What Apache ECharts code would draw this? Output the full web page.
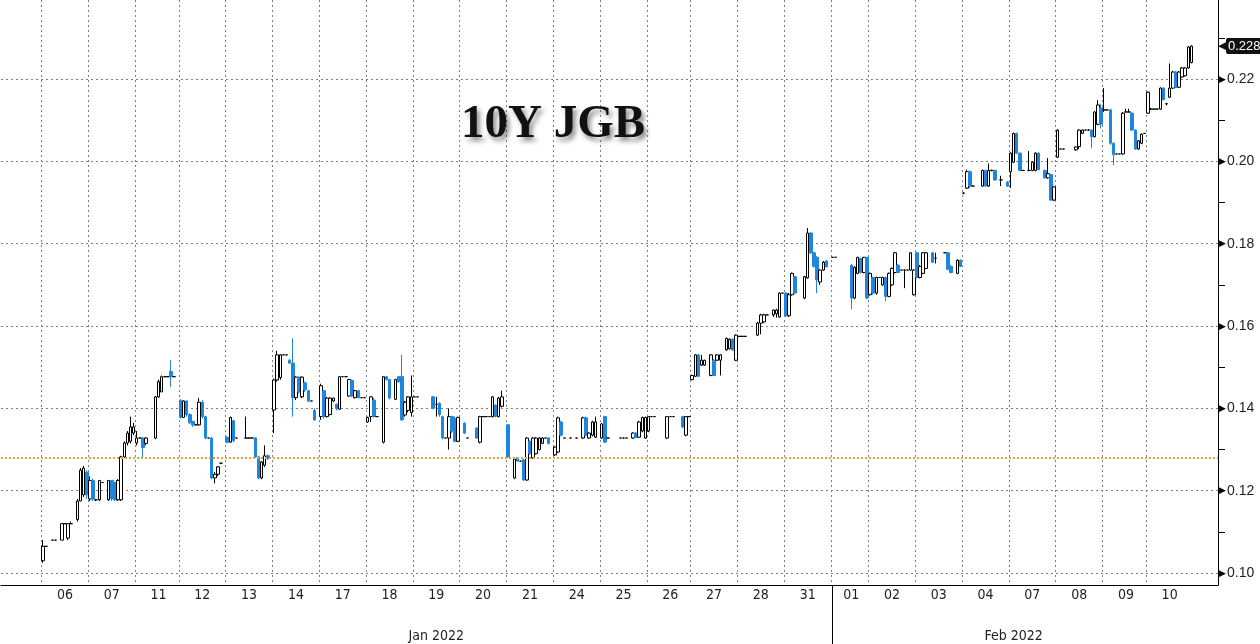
<!DOCTYPE html>
<html><head><meta charset="utf-8">
<script src="https://cdn.jsdelivr.net/npm/echarts@6/dist/echarts.min.js"></script>
<style>html,body{margin:0;padding:0;background:#fff}#c{width:1260px;height:644px}</style>
</head><body><div id="c"></div>
<script>
// ---- tick / axis labels ----
const dayLabels = ['06','07','11','12','13','14','17','18','19','20','21','24','25','26','27','28','31','01','02','03','04','07','08','09','10'];
const monthNames = ['Jan 2022','Feb 2022'];
const monthDayCount = [17, 8];
const yTicks = [0.10,0.12,0.14,0.16,0.18,0.20,0.22];
const refLevel = 0.128;
const lastValue = 0.228;

// ---- 30-min OHLC bars per session: [open, close, low, high], null = no trade ----
const jan06 = [[0.1030,0.1065,0.1025,0.1080],[0.1065,0.1065,0.1065,0.1065],null,[0.1080,0.1080,0.1080,0.1080],[0.1080,0.1080,0.1080,0.1080],null,[0.1080,0.1120,0.1080,0.1120],[0.1120,0.1120,0.1120,0.1120],[0.1085,0.1120,0.1080,0.1120],[0.1120,0.1120,0.1120,0.1125],null,[0.1130,0.1175,0.1125,0.1180],[0.1175,0.1250,0.1175,0.1255],[0.1190,0.1255,0.1185,0.1260],[0.1245,0.1190,0.1180,0.1250]];
const jan07 = [[0.1180,0.1225,0.1175,0.1235],[0.1225,0.1180,0.1175,0.1230],[0.1178,0.1178,0.1175,0.1180],[0.1178,0.1225,0.1175,0.1225],[0.1220,0.1220,0.1220,0.1220],null,[0.1178,0.1225,0.1175,0.1225],[0.1225,0.1180,0.1175,0.1225],[0.1220,0.1178,0.1175,0.1220],[0.1178,0.1225,0.1175,0.1228],[0.1178,0.1282,0.1175,0.1285],[0.1282,0.1316,0.1280,0.1320],[0.1316,0.1340,0.1310,0.1345],[0.1320,0.1355,0.1315,0.1380],[0.1340,0.1355,0.1335,0.1365]];
const jan11 = [[0.1316,0.1328,0.1310,0.1345],[0.1328,0.1328,0.1328,0.1328],[0.1328,0.1305,0.1280,0.1330],[0.1315,0.1328,0.1310,0.1330],null,null,[0.1328,0.1428,0.1325,0.1430],[0.1428,0.1465,0.1425,0.1470],[0.1440,0.1477,0.1440,0.1480],[0.1477,0.1477,0.1477,0.1477],[0.1477,0.1477,0.1477,0.1477],[0.1490,0.1477,0.1452,0.1517],[0.1477,0.1477,0.1477,0.1477],null];
const jan12 = [[0.1420,0.1378,0.1375,0.1422],[0.1378,0.1418,0.1378,0.1420],[0.1418,0.1385,0.1380,0.1420],[0.1385,0.1365,0.1362,0.1388],[0.1368,0.1360,0.1355,0.1370],[0.1360,0.1360,0.1360,0.1360],[0.1360,0.1415,0.1358,0.1425],[0.1415,0.1380,0.1375,0.1420],[0.1380,0.1328,0.1325,0.1382],[0.1328,0.1328,0.1328,0.1328],[0.1328,0.1231,0.1228,0.1330],[0.1231,0.1240,0.1218,0.1245],[0.1240,0.1258,0.1235,0.1260],[0.1267,0.1267,0.1267,0.1267],null];
const jan13 = [[0.1330,0.1318,0.1315,0.1332],[0.1318,0.1378,0.1316,0.1380],[0.1370,0.1322,0.1318,0.1372],[0.1328,0.1328,0.1328,0.1328],null,null,[0.1328,0.1328,0.1328,0.1380],[0.1328,0.1328,0.1328,0.1328],[0.1328,0.1328,0.1328,0.1328],[0.1328,0.1282,0.1280,0.1330],[0.1282,0.1231,0.1228,0.1285],[0.1231,0.1270,0.1228,0.1272],[0.1262,0.1285,0.1258,0.1310],[0.1285,0.1278,0.1275,0.1288],null];
const jan14 = [[0.1396,0.1469,0.1340,0.1472],[0.1469,0.1530,0.1465,0.1540],[0.1475,0.1530,0.1470,0.1532],[0.1530,0.1530,0.1530,0.1530],[0.1530,0.1530,0.1530,0.1530],[0.1517,0.1510,0.1508,0.1520],[0.1510,0.1426,0.1380,0.1570],[0.1426,0.1476,0.1420,0.1478],[0.1476,0.1440,0.1436,0.1478],[0.1428,0.1476,0.1425,0.1478],[0.1462,0.1445,0.1440,0.1465],[0.1443,0.1418,0.1415,0.1445],[0.1418,0.1418,0.1418,0.1418],[0.1395,0.1372,0.1370,0.1400],null];
const jan17 = [[0.1380,0.1455,0.1372,0.1460],[0.1443,0.1380,0.1375,0.1445],[0.1380,0.1425,0.1378,0.1428],[0.1385,0.1425,0.1383,0.1427],[0.1418,0.1425,0.1416,0.1426],[0.1410,0.1400,0.1395,0.1412],[0.1398,0.1477,0.1396,0.1478],[0.1477,0.1477,0.1477,0.1477],[0.1477,0.1477,0.1477,0.1477],[0.1430,0.1470,0.1428,0.1472],[0.1468,0.1430,0.1428,0.1470],[0.1426,0.1443,0.1424,0.1445],[0.1443,0.1426,0.1424,0.1445],[0.1426,0.1426,0.1426,0.1426],[0.1426,0.1426,0.1426,0.1426]];
const jan18 = [[0.1367,0.1378,0.1365,0.1380],[0.1380,0.1428,0.1367,0.1430],[0.1420,0.1380,0.1378,0.1425],[0.1380,0.1380,0.1380,0.1380],null,[0.1318,0.1477,0.1315,0.1478],[0.1477,0.1470,0.1468,0.1478],[0.1470,0.1425,0.1422,0.1472],null,[0.1422,0.1470,0.1420,0.1472],[0.1477,0.1465,0.1462,0.1478],[0.1477,0.1372,0.1370,0.1530],[0.1384,0.1415,0.1380,0.1418],[0.1395,0.1428,0.1390,0.1430],[0.1390,0.1428,0.1380,0.1480]];
const jan19 = [[0.1428,0.1428,0.1428,0.1428],[0.1428,0.1428,0.1428,0.1428],null,null,null,null,[0.1428,0.1400,0.1398,0.1430],[0.1410,0.1410,0.1380,0.1428],[0.1412,0.1385,0.1380,0.1415],[0.1380,0.1328,0.1325,0.1382],[0.1328,0.1328,0.1328,0.1328],[0.1328,0.1380,0.1300,0.1400],[0.1380,0.1345,0.1340,0.1382],[0.1375,0.1320,0.1318,0.1380],[0.1320,0.1378,0.1318,0.1380]];
const jan20 = [null,[0.1364,0.1340,0.1338,0.1366],[0.1328,0.1328,0.1328,0.1328],null,null,[0.1352,0.1328,0.1326,0.1355],[0.1318,0.1380,0.1315,0.1382],[0.1380,0.1380,0.1380,0.1380],[0.1380,0.1380,0.1380,0.1380],[0.1380,0.1380,0.1380,0.1380],[0.1380,0.1428,0.1378,0.1430],[0.1408,0.1380,0.1378,0.1410],[0.1380,0.1425,0.1378,0.1428],[0.1405,0.1428,0.1402,0.1443],null];
const jan21 = [[0.1360,0.1282,0.1280,0.1362],null,[0.1231,0.1277,0.1228,0.1280],[0.1280,0.1272,0.1270,0.1282],[0.1272,0.1272,0.1272,0.1272],[0.1275,0.1226,0.1224,0.1278],[0.1226,0.1328,0.1224,0.1330],[0.1320,0.1290,0.1288,0.1322],[0.1280,0.1328,0.1278,0.1330],[0.1290,0.1328,0.1288,0.1330],[0.1300,0.1328,0.1298,0.1330],[0.1315,0.1328,0.1313,0.1330],[0.1328,0.1328,0.1328,0.1328],[0.1328,0.1315,0.1312,0.1330],null];
const jan24 = [[0.1287,0.1306,0.1285,0.1308],[0.1294,0.1377,0.1292,0.1380],[0.1367,0.1335,0.1332,0.1370],[0.1328,0.1328,0.1328,0.1328],null,[0.1328,0.1328,0.1328,0.1328],null,[0.1328,0.1328,0.1328,0.1328],null,[0.1328,0.1377,0.1326,0.1380],[0.1377,0.1335,0.1332,0.1380],[0.1328,0.1340,0.1326,0.1342],[0.1335,0.1367,0.1332,0.1370],[0.1330,0.1367,0.1328,0.1380],null];
const jan25 = [[0.1328,0.1362,0.1326,0.1365],[0.1380,0.1318,0.1316,0.1382],[0.1328,0.1328,0.1328,0.1328],null,null,null,[0.1328,0.1328,0.1328,0.1328],[0.1328,0.1328,0.1328,0.1328],[0.1328,0.1328,0.1328,0.1328],null,[0.1328,0.1340,0.1326,0.1342],[0.1340,0.1330,0.1328,0.1342],[0.1330,0.1367,0.1328,0.1370],[0.1345,0.1378,0.1342,0.1380],[0.1328,0.1378,0.1326,0.1380]];
const jan26 = [[0.1345,0.1380,0.1342,0.1380],[0.1380,0.1380,0.1380,0.1380],[0.1380,0.1380,0.1380,0.1380],null,null,null,[0.1328,0.1380,0.1326,0.1380],[0.1380,0.1380,0.1380,0.1380],[0.1380,0.1380,0.1380,0.1380],null,null,[0.1380,0.1355,0.1352,0.1382],[0.1335,0.1380,0.1332,0.1380],[0.1380,0.1380,0.1380,0.1380]];
const jan27 = [[0.1470,0.1480,0.1468,0.1482],[0.1478,0.1530,0.1476,0.1532],[0.1530,0.1478,0.1476,0.1532],[0.1505,0.1517,0.1503,0.1530],[0.1505,0.1517,0.1503,0.1518],null,[0.1480,0.1530,0.1478,0.1532],[0.1517,0.1480,0.1478,0.1520],[0.1517,0.1530,0.1515,0.1532],[0.1517,0.1530,0.1480,0.1532],null,[0.1542,0.1570,0.1540,0.1572],[0.1545,0.1568,0.1543,0.1570],[0.1568,0.1542,0.1540,0.1570],[0.1517,0.1578,0.1515,0.1580]];
const jan28 = [[0.1575,0.1575,0.1575,0.1575],[0.1575,0.1575,0.1575,0.1575],[0.1575,0.1575,0.1575,0.1575],null,null,null,[0.1578,0.1607,0.1576,0.1610],[0.1607,0.1627,0.1580,0.1630],[0.1610,0.1627,0.1608,0.1630],[0.1627,0.1627,0.1627,0.1627],null,[0.1627,0.1639,0.1622,0.1640],[0.1630,0.1639,0.1620,0.1642],[0.1622,0.1680,0.1620,0.1682],[0.1680,0.1680,0.1680,0.1680]];
const jan31 = [[0.1680,0.1625,0.1622,0.1682],[0.1625,0.1676,0.1622,0.1680],[0.1676,0.1728,0.1674,0.1730],[0.1720,0.1680,0.1678,0.1722],null,null,[0.1668,0.1720,0.1665,0.1722],[0.1717,0.1826,0.1715,0.1838],[0.1826,0.1778,0.1775,0.1828],[0.1778,0.1745,0.1742,0.1780],[0.1767,0.1712,0.1680,0.1770],[0.1707,0.1736,0.1700,0.1738],[0.1736,0.1755,0.1734,0.1758],[0.1758,0.1744,0.1742,0.1760],null];
const feb01 = [[0.1767,0.1767,0.1767,0.1767],[0.1767,0.1767,0.1767,0.1767],null,null,null,null,[0.1748,0.1668,0.1641,0.1750],[0.1668,0.1743,0.1665,0.1745],[0.1728,0.1767,0.1726,0.1768],[0.1764,0.1730,0.1728,0.1766],[0.1730,0.1767,0.1728,0.1768],[0.1767,0.1668,0.1665,0.1768]];
const feb02 = [[0.1676,0.1728,0.1674,0.1730],[0.1718,0.1680,0.1676,0.1720],[0.1680,0.1718,0.1676,0.1720],[0.1718,0.1718,0.1718,0.1718],[0.1700,0.1718,0.1698,0.1720],[0.1718,0.1672,0.1660,0.1720],[0.1672,0.1728,0.1670,0.1730],[0.1700,0.1740,0.1698,0.1742],[0.1730,0.1778,0.1728,0.1780],[0.1748,0.1730,0.1728,0.1750],[0.1736,0.1736,0.1736,0.1736],[0.1736,0.1736,0.1692,0.1738],[0.1736,0.1736,0.1736,0.1736],[0.1736,0.1778,0.1734,0.1780],[0.1676,0.1736,0.1674,0.1738]];
const feb03 = [[0.1778,0.1718,0.1716,0.1780],[0.1718,0.1745,0.1716,0.1748],[0.1728,0.1778,0.1726,0.1780],[0.1740,0.1778,0.1738,0.1780],null,[0.1778,0.1755,0.1753,0.1780],[0.1765,0.1765,0.1752,0.1778],null,null,[0.1778,0.1778,0.1778,0.1778],[0.1778,0.1738,0.1736,0.1780],[0.1745,0.1730,0.1728,0.1748],null,[0.1728,0.1760,0.1726,0.1762],[0.1760,0.1745,0.1743,0.1762]];
const feb04 = [[0.1923,0.1923,0.1920,0.1925],[0.1935,0.1975,0.1933,0.1980],[0.1975,0.1940,0.1935,0.1978],[0.1940,0.1940,0.1940,0.1940],null,null,[0.1940,0.1978,0.1938,0.1980],[0.1978,0.1940,0.1938,0.1980],[0.1940,0.1978,0.1938,0.1995],[0.1978,0.1978,0.1976,0.1980],[0.1978,0.1955,0.1953,0.1980],null,[0.1955,0.1955,0.1940,0.1965],null,[0.1950,0.1940,0.1938,0.1952]];
const feb07 = [[0.1975,0.2020,0.1935,0.2022],[0.1998,0.2068,0.1996,0.2070],[0.2068,0.2020,0.2018,0.2070],[0.2020,0.1978,0.1976,0.2022],[0.1978,0.1978,0.1978,0.1978],null,[0.1978,0.1978,0.1976,0.2025],[0.1978,0.1998,0.1976,0.2000],[0.1978,0.2020,0.1976,0.2022],[0.2020,0.1980,0.1978,0.2022],null,[0.1978,0.1960,0.1958,0.1980],[0.1960,0.1970,0.1958,0.2008],[0.1968,0.1906,0.1904,0.1970],[0.1906,0.1938,0.1904,0.1940]];
const feb08 = [[0.2010,0.2076,0.2008,0.2078],[0.2030,0.2030,0.2030,0.2030],[0.2030,0.2030,0.2030,0.2030],null,null,null,[0.2028,0.2035,0.2026,0.2036],[0.2036,0.2076,0.2030,0.2078],[0.2068,0.2076,0.2066,0.2078],[0.2076,0.2076,0.2076,0.2076],[0.2076,0.2076,0.2076,0.2078],[0.2076,0.2060,0.2032,0.2078],[0.2060,0.2120,0.2058,0.2122],[0.2090,0.2137,0.2088,0.2149],[0.2130,0.2090,0.2080,0.2140]];
const feb09 = [[0.2125,0.2125,0.2120,0.2178],[0.2125,0.2125,0.2125,0.2125],[0.2125,0.2044,0.2040,0.2128],[0.2044,0.2016,0.1991,0.2046],[0.2018,0.2018,0.2018,0.2018],[0.2018,0.2018,0.2018,0.2018],[0.2018,0.2117,0.2016,0.2120],[0.2120,0.2120,0.2120,0.2128],[0.2120,0.2120,0.2120,0.2128],[0.2117,0.2076,0.2074,0.2120],[0.2076,0.2030,0.2028,0.2078],[0.2030,0.2050,0.2028,0.2052],[0.2044,0.2066,0.2042,0.2068],[0.2068,0.2068,0.2068,0.2068]];
const feb10 = [[0.2117,0.2168,0.2115,0.2170],[0.2127,0.2127,0.2125,0.2130],[0.2127,0.2127,0.2127,0.2127],[0.2127,0.2127,0.2127,0.2127],[0.2127,0.2178,0.2125,0.2180],[0.2178,0.2150,0.2148,0.2180],[0.2140,0.2140,0.2136,0.2142],[0.2156,0.2178,0.2154,0.2238],[0.2178,0.2217,0.2176,0.2220],[0.2217,0.2180,0.2178,0.2220],[0.2180,0.2217,0.2178,0.2220],[0.2205,0.2227,0.2203,0.2229],[0.2208,0.2227,0.2206,0.2229],[0.2227,0.2278,0.2225,0.2280],[0.2240,0.2280,0.2238,0.2282]];

const dayBars = [jan06,jan07,jan11,jan12,jan13,jan14,jan17,jan18,jan19,jan20,jan21,jan24,jan25,jan26,jan27,jan28,jan31,
                 feb01,feb02,feb03,feb04,feb07,feb08,feb09,feb10];

// ---- build category axis (empty slots before/after sessions) ----
const PRE = 13, POST = 8;
const EMPTY = ['-','-','-','-'];
const cats = [], ohlc = [];
const dayStartIdx = new Set(), dayLabelAt = {}, monthLabelAt = {}, monthStartIdx = [];
for (let i = 0; i < PRE; i++) { cats.push('pre' + i); ohlc.push(EMPTY); }
let dIdx = 0;
monthNames.forEach((m, k) => {
  const start = cats.length;
  monthStartIdx.push(start);
  for (let d = 0; d < monthDayCount[k]; d++, dIdx++) {
    const bars = dayBars[dIdx];
    const s = cats.length;
    dayStartIdx.add(s);
    dayLabelAt[s + Math.floor(bars.length / 2)] = dayLabels[dIdx];
    bars.forEach((b, j) => { cats.push(m + ' ' + dayLabels[dIdx] + ' #' + j); ohlc.push(b ? b : EMPTY); });
  }
  monthLabelAt[Math.floor((start + cats.length) / 2)] = m;
});
for (let i = 0; i < POST; i++) { cats.push('post' + i); ohlc.push(EMPTY); }
const sepIdx = monthStartIdx[1];

const yMin = 0.0971, yMax = 0.2392;
const isMajor = v => yTicks.some(t => Math.abs(t - v) < 1e-6);
const narrow = "'DejaVu Sans Condensed','Liberation Sans Narrow','Liberation Sans',sans-serif";
const grid = '#7d7d7d';

const chart = echarts.init(document.getElementById('c'), null, {width:1260, height:644, renderer:'canvas'});
chart.setOption({
  animation: false,
  backgroundColor: '#ffffff',
  title: {
    text: '10Y JGB', left: 461, top: 101, padding: 0,
    textStyle: { fontFamily: "'Liberation Serif','Times New Roman',serif", fontWeight: 'bold', fontSize: 47, color: '#111',
      textShadowColor: 'rgba(0,0,0,0.45)', textShadowBlur: 5, textShadowOffsetX: 3, textShadowOffsetY: 4 }
  },
  grid: { left: 1, right: 42, top: 0, bottom: 59, containLabel: false },
  xAxis: [
    {
      type: 'category', data: cats, boundaryGap: true, position: 'bottom',
      axisLine: { show: true, onZero: false, lineStyle: { color: '#000', width: 1 } },
      axisTick: { show: false },
      splitLine: { show: true, interval: (i) => dayStartIdx.has(i), lineStyle: { color: grid, type: [2, 3], width: 1 } },
      axisLabel: { interval: (i) => (i in dayLabelAt), formatter: (v, i) => dayLabelAt[i] || '',
        margin: 3, color: '#222', fontSize: 14, fontFamily: narrow }
    },
    {
      type: 'category', data: cats, boundaryGap: true, position: 'bottom',
      axisLine: { show: false },
      axisTick: { show: true, alignWithLabel: true, interval: (i) => i === sepIdx, length: 59, lineStyle: { color: '#000', width: 1 } },
      splitLine: { show: false },
      axisLabel: { interval: (i) => (i in monthLabelAt), formatter: (v, i) => monthLabelAt[i] || '',
        margin: 44, color: '#222', fontSize: 14, fontFamily: narrow }
    }
  ],
  yAxis: {
    type: 'value', position: 'right', min: yMin, max: yMax, splitNumber: 7,
    axisLine: { show: true, lineStyle: { color: '#000', width: 1 } },
    axisTick: { show: false },
    minorTick: { show: true, splitNumber: 2, length: 7, lineStyle: { color: '#000', width: 1 } },
    splitLine: { show: true, showMinLine: false, showMaxLine: false, lineStyle: { color: grid, type: [2, 3], width: 1 } },
    axisLabel: {
      margin: 1, color: '#222', fontSize: 14, fontFamily: "'Liberation Sans',sans-serif",
      showMinLabel: false, showMaxLabel: false,
      formatter: v => isMajor(v) ? '{t|\u25B6}' + v.toFixed(2) : '',
      rich: { t: { fontSize: 9, color: '#000', padding: [0, 1, 0, 0] } }
    }
  },
  series: [{
    type: 'candlestick', data: ohlc, barWidth: 3, xAxisIndex: 0,
    itemStyle: { color: '#ffffff', color0: '#1f86de', borderColor: '#000000', borderColor0: '#1f86de', borderColorDoji: '#000000', borderWidth: 1 },
    markLine: {
      silent: true, symbol: ['none', 'none'], animation: false, precision: 4,
      data: [
        { yAxis: refLevel, lineStyle: { color: '#e0a23a', type: [2, 2], width: 2 }, label: { show: false } },
        { yAxis: lastValue, lineStyle: { color: 'rgba(0,0,0,0)', width: 0 },
          label: { show: true, position: 'end', distance: 0,
            formatter: '{a|\u25C0}{b|' + lastValue.toFixed(3) + '}',
            rich: {
              a: { color: '#111', fontSize: 11 },
              b: { color: '#fff', backgroundColor: '#111', fontSize: 13, fontFamily: "'Liberation Sans',sans-serif", padding: [2, 4, 1, 2], borderRadius: 2 }
            } } }
      ]
    }
  }]
});
</script></body></html>
